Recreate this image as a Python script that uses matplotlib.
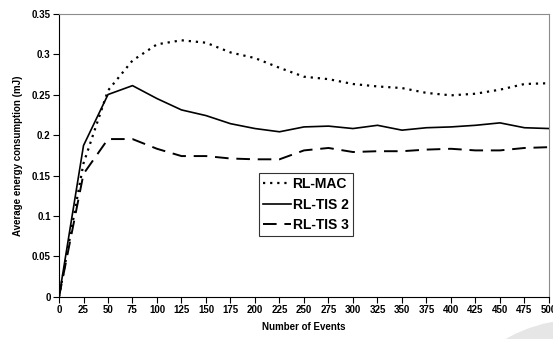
import matplotlib.pyplot as plt
from matplotlib.patches import Circle
from matplotlib.transforms import IdentityTransform

# --- dados ---
eventos = [0, 25, 50, 75, 100, 125, 150, 175, 200, 225, 250,
           275, 300, 325, 350, 375, 400, 425, 450, 475, 500]
rl_mac = [0, 0.165, 0.255, 0.292, 0.312, 0.317, 0.314, 0.302, 0.295, 0.283, 0.272,
          0.269, 0.263, 0.260, 0.258, 0.252, 0.249, 0.251, 0.256, 0.263, 0.264]
rl_tis2 = [0, 0.187, 0.250, 0.261, 0.245, 0.231, 0.224, 0.214, 0.208, 0.204, 0.210,
           0.211, 0.208, 0.212, 0.206, 0.209, 0.210, 0.212, 0.215, 0.209, 0.208]
rl_tis3 = [0, 0.152, 0.195, 0.195, 0.183, 0.174, 0.174, 0.171, 0.170, 0.170, 0.181,
           0.184, 0.179, 0.180, 0.180, 0.182, 0.183, 0.181, 0.181, 0.184, 0.185]
yticks = [0, 0.05, 0.1, 0.15, 0.2, 0.25, 0.3, 0.35]
yticklabels = ['0', '0.05', '0.1', '0.15', '0.2', '0.25', '0.3', '0.35']

plt.rcParams['font.family'] = 'Liberation Sans'
plt.rcParams['font.weight'] = 'bold'

fig = plt.figure(figsize=(5.53, 3.39), dpi=100)
ax = fig.add_axes([0.1067, 0.124, 0.886, 0.836])

ax.plot(eventos, rl_mac, color='black', lw=1.6, linestyle=(0, (1, 2.2)), label='RL-MAC')
ax.plot(eventos, rl_tis2, color='black', lw=1.2, linestyle='-', label='RL-TIS 2')
ax.plot(eventos, rl_tis3, color='black', lw=1.4, linestyle=(0, (7, 4)), label='RL-TIS 3')

ax.set_xlim(0, 500)
ax.set_ylim(0, 0.35)
ax.set_xticks(eventos)
ax.set_xticklabels([str(e) for e in eventos], fontsize=7, fontweight='bold')
ax.set_yticks(yticks)
ax.set_yticklabels(yticklabels, fontsize=7, fontweight='bold')
ax.tick_params(direction='out', length=4, width=0.8, pad=2)

ax.spines['top'].set_color('#8c8c8c')
ax.spines['right'].set_color('#8c8c8c')
ax.spines['left'].set_color('black')
ax.spines['bottom'].set_color('black')

ax.set_xlabel('Number of Events', fontsize=7, fontweight='bold', labelpad=5)
ax.set_ylabel('Average energy consumption (mJ)', fontsize=7, fontweight='bold', labelpad=6)

leg = ax.legend(loc='upper left', bbox_to_anchor=(0.408, 0.437),
                prop={'weight': 'bold', 'size': 10}, frameon=True, fancybox=False,
                handlelength=2.0, handletextpad=0.12, borderpad=0.3, labelspacing=0.45,
                borderaxespad=0)
leg.get_frame().set_edgecolor('black')
leg.get_frame().set_linewidth(0.8)

# marca d'agua cinza no canto
fig.add_artist(Circle((580, 339 - 470), 150, transform=IdentityTransform(),
                      color='#e6e6e6', zorder=0))

fig.savefig('out.png', dpi=100)
